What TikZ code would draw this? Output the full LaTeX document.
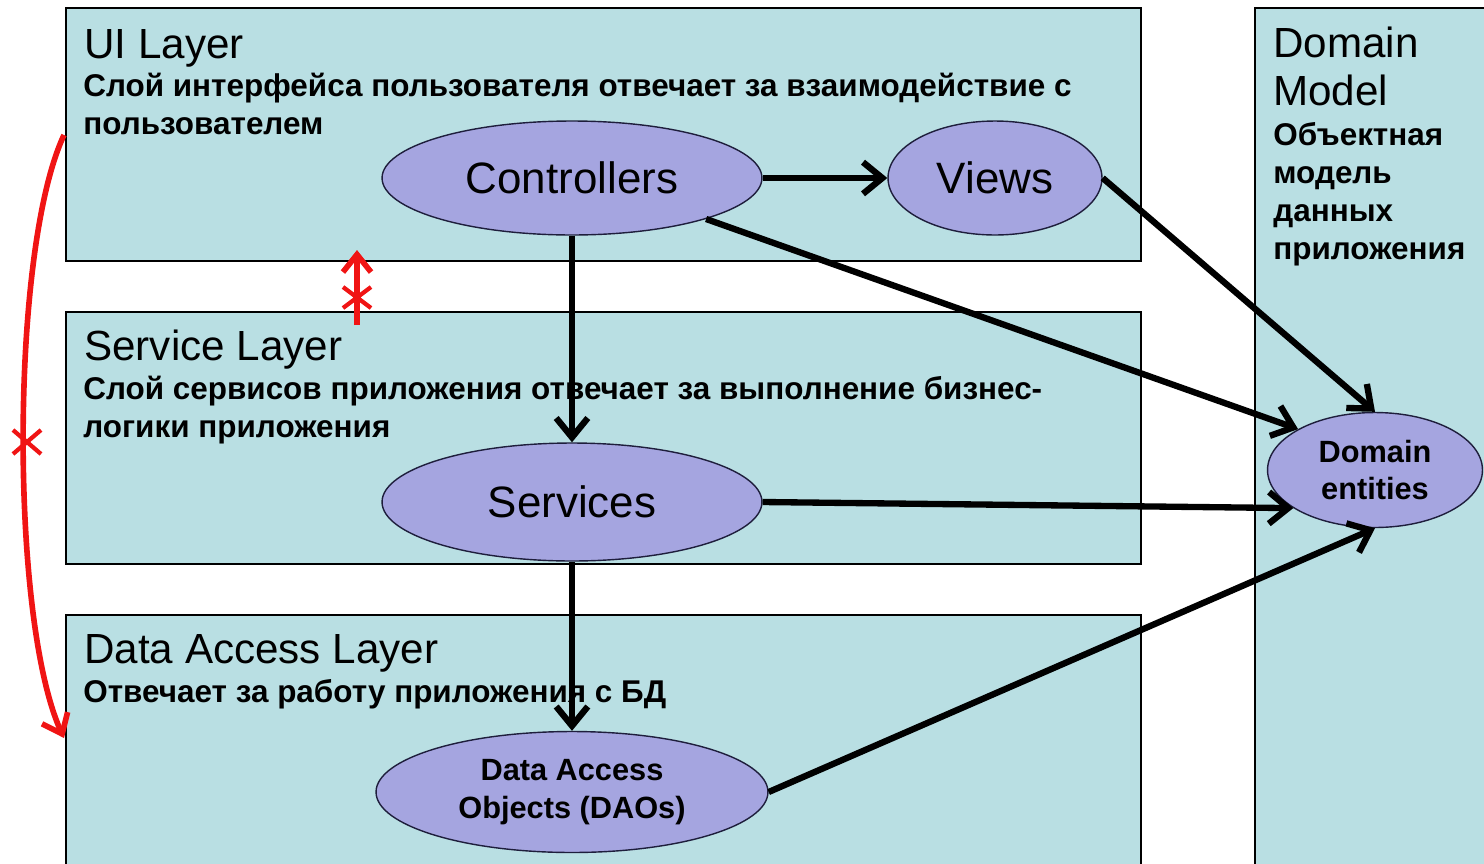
\documentclass[tikz,border=0pt]{standalone}
\usepackage{fontspec}
\setmainfont{Liberation Sans}
\usepackage{tikz}
\usetikzlibrary{shapes}
\usetikzlibrary{arrows.meta}
\definecolor{layerfill}{RGB}{185,223,227}
\definecolor{nodefill}{RGB}{165,165,224}
\definecolor{nodeline}{RGB}{30,30,60}
\definecolor{markred}{RGB}{240,20,20}
\tikzset{
	layer/.style={draw=black,line width=0.8pt,fill=layerfill},
	title/.style={anchor=base west,inner sep=0pt,align=left,font=\fontsize{24}{27}\selectfont},
	note/.style={anchor=base west,inner sep=0pt,align=left,font=\fontsize{17.9}{21.5}\selectfont\bfseries},
	main node/.style={ellipse,draw=nodeline,line width=0.8pt,fill=nodefill,inner sep=0pt,align=center},
	big node/.style={main node,font=\fontsize{25}{28}\selectfont},
	small node/.style={main node,font=\fontsize{17.5}{21.5}\selectfont\bfseries},
	link/.style={-{Straight Barb[length=11pt,width=18pt]},line width=3.6pt,black},
	red link/.style={-{Straight Barb[length=10pt,width=16pt]},line width=3.2pt,markred},
	red mark/.style={line width=2.4pt,markred}
}

\begin{document}
\begin{tikzpicture}[x=0.02cm,y=-0.02cm]
	\useasboundingbox (0,0) rectangle (1484,863);
	\draw[layer] (66,8) rectangle (1141,261);
	\draw[layer] (66,312) rectangle (1141,564);
	\draw[layer] (66,615) rectangle (1141,880);
	\draw[layer] (1255,8) rectangle (1500,880);

	\node[title] (uititle) at (84,58) {UI Layer};
	\node[note] (uinote) at (83,134) {Слой интерфейса пользователя отвечает за взаимодействие с\\пользователем};
	\node[title] (svtitle) at (84,360) {Service Layer};
	\node[note] (svnote) at (83,437) {Слой сервисов приложения отвечает за выполнение бизнес-\\логики приложения};
	\node[title] (datitle) at (84,663) {Data Access Layer};
	\node[note] (danote) at (83,702) {Отвечает за работу приложения с БД};
	\node[title] (dmtitle) at (1273,105) {Domain\\Model};
	\node[note] (dmnote) at (1273,259) {Объектная\\модель\\данных\\приложения};

	\node[big node,minimum width=7.6cm,minimum height=2.28cm] (ctrl) at (572,178) {Controllers};
	\node[big node,minimum width=4.28cm,minimum height=2.28cm] (views) at (995,178) {Views};
	\node[big node,minimum width=7.6cm,minimum height=2.36cm] (serv) at (572,502) {Services};
	\node[small node,minimum width=7.84cm,minimum height=2.42cm] (dao) at (572,792) {Data Access\\Objects (DAOs)};
	\node[small node,minimum width=4.3cm,minimum height=2.3cm] (ent) at (1375,470) {Domain\\entities};

	\draw[link] (ctrl.east) -- (views.west);
	\draw[link] (ctrl.south) -- (serv.north);
	\draw[link] (serv.south) -- (dao.north);
	\draw[link] (ctrl.-17) -- (ent.152);
	\draw[link] (views.east) -- (ent.north);
	\draw[link] (serv.east) -- (ent.205);
	\draw[link] (dao.east) -- (ent.south);

	\coordinate (redtop) at (64,135);
	\coordinate (redbot) at (64,738);
	\draw[red link] (redtop) .. controls (10,250) and (10,620) .. (redbot);
	\draw[red mark] (13,430) -- (41,454) (13,454) -- (41,430);
	\coordinate (upfrom) at (357,325);
	\coordinate (upto) at (357,250);
	\draw[red link] (upfrom) -- (upto);
	\draw[red mark] (343,287) -- (371,308) (343,308) -- (371,287);
\end{tikzpicture}
\end{document}
